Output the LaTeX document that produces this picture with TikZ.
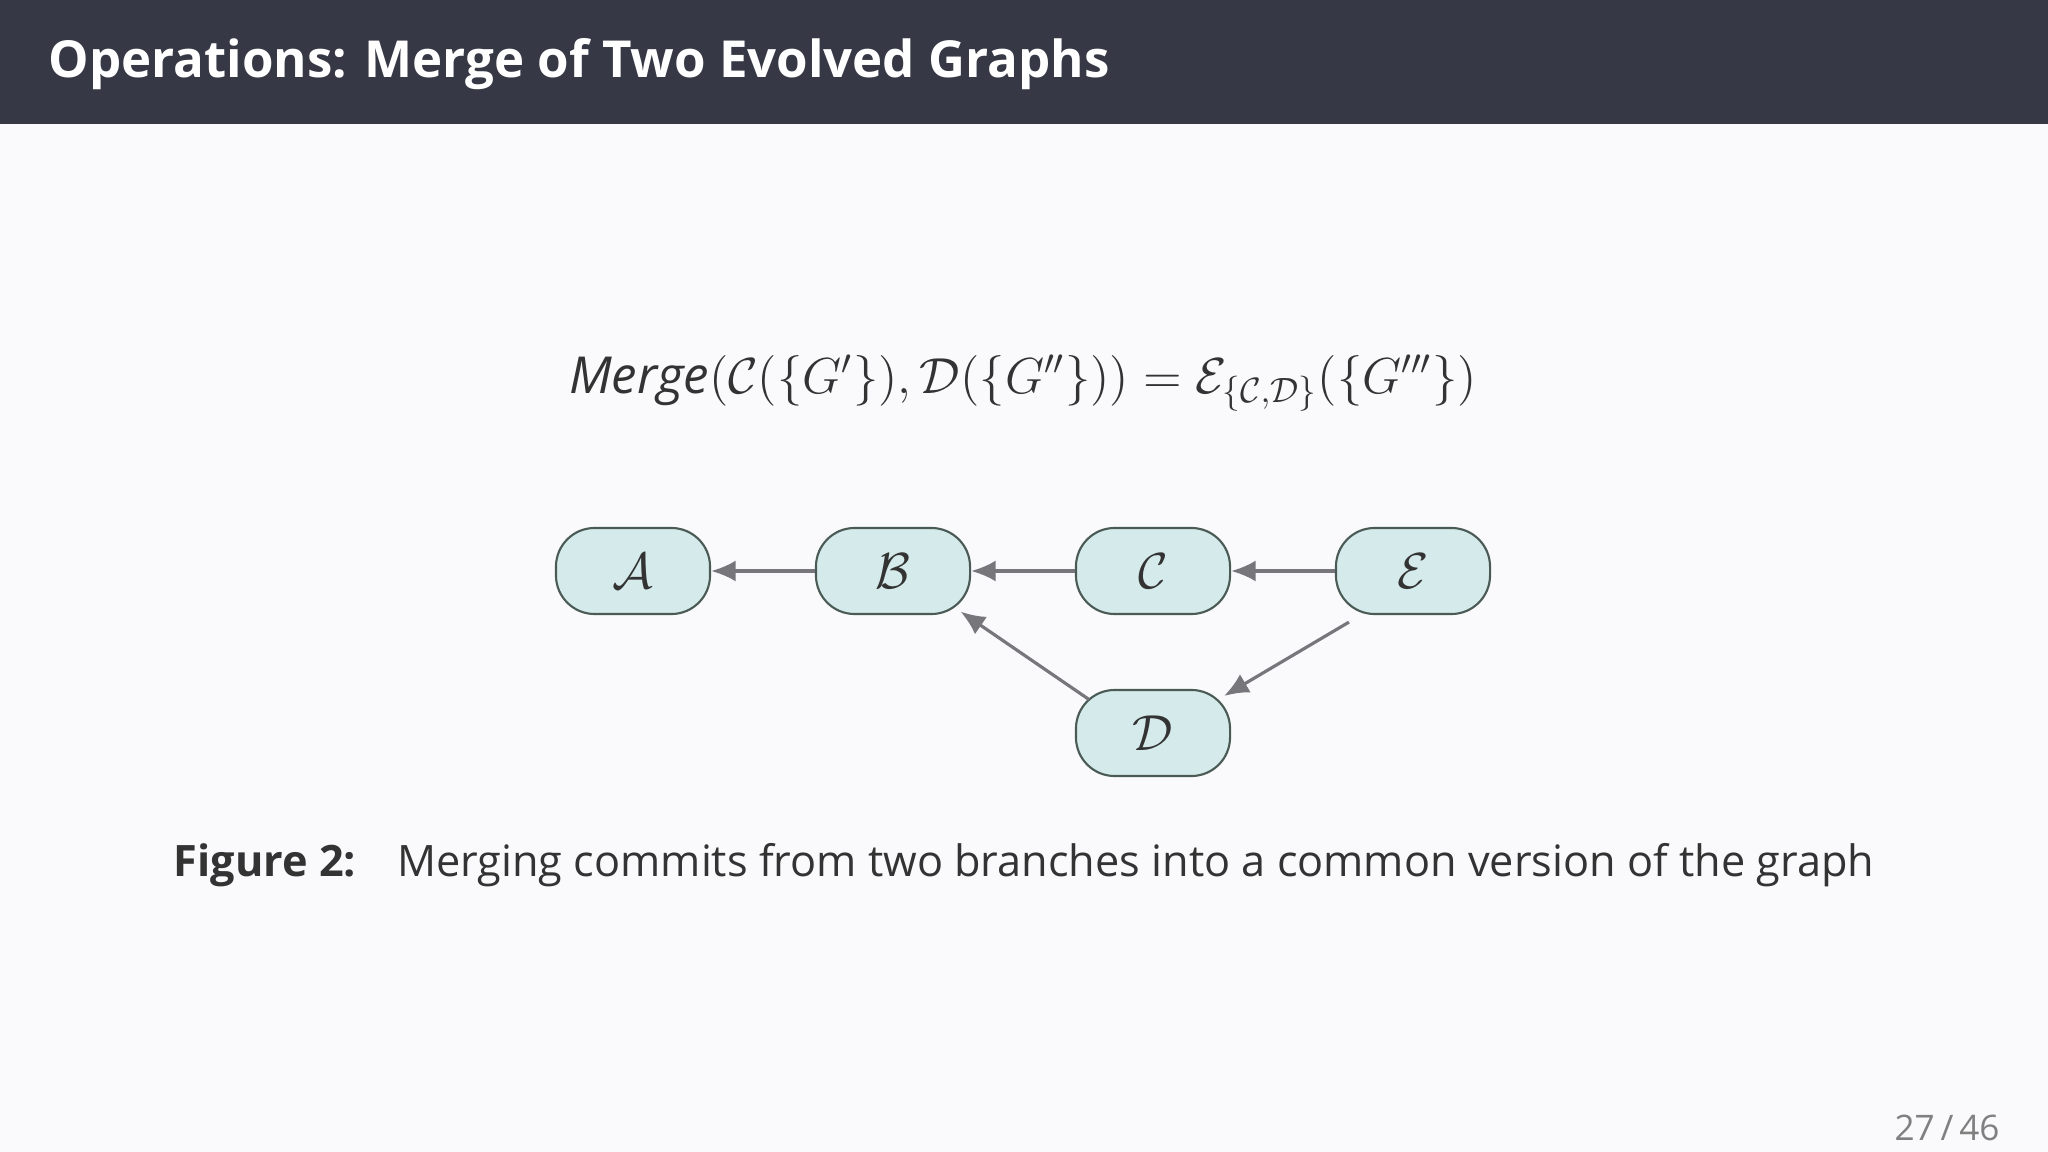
\documentclass[tikz,border=0pt]{standalone}
\usepackage{fontspec}
\setmainfont{Open Sans}
\usetikzlibrary{arrows.meta}
\definecolor{bg}{HTML}{FAF9FB}
\definecolor{hdr}{HTML}{363945}
\definecolor{nfill}{HTML}{D5EAEA}
\definecolor{ndraw}{HTML}{4A5A55}
\definecolor{arr}{HTML}{77777B}
\definecolor{txt}{HTML}{333333}
\tikzset{
  commit/.style={draw=ndraw, fill=nfill, rounded corners=11pt, minimum width=1.54cm, minimum height=0.86cm, font=\fontsize{15}{17}\selectfont, text=txt, line width=0.6pt},
  link/.style={-{Latex[length=7pt,width=6pt]}, draw=arr, line width=0.9pt}
}
\begin{document}
\begin{tikzpicture}[x=0.01cm,y=-0.01cm]
\fill[bg] (0,0) rectangle (2048,1152);
\useasboundingbox (0,0) rectangle (2048,1152);
\fill[hdr] (0,0) rectangle (2048,124);
\node[anchor=west, text=white, font=\fontsize{14.5}{18}\bfseries] (title) at (36,64) {Operations: Merge of Two Evolved Graphs};
\node[text=txt, font=\fontsize{14.5}{17}\selectfont] (formula) at (1023,383)
  {$\textit{Merge}(\mathcal{C}(\{G'\}),\mathcal{D}(\{G''\}))=\mathcal{E}_{\{\mathcal{C},\mathcal{D}\}}(\{G'''\})$};
\node[commit] (A) at (633,571) {$\mathcal{A}$};
\node[commit] (B) at (893,571) {$\mathcal{B}$};
\node[commit] (C) at (1153,571) {$\mathcal{C}$};
\node[commit] (E) at (1413,571) {$\mathcal{E}$};
\node[commit] (D) at (1153,733) {$\mathcal{D}$};
\draw[link] (B) -- (A);
\draw[link] (C) -- (B);
\draw[link] (E) -- (C);
\draw[link] ([xshift=4pt,yshift=-2pt]E.south west) -- ([xshift=-2pt,yshift=-2pt]D.north east);
\draw[link] ([xshift=4pt,yshift=-3pt]D.north west) -- ([xshift=-3pt,yshift=1pt]B.south east);
\node[text=txt, font=\fontsize{12.3}{15}\selectfont] (cap) at (1024,865)
  {\textbf{Figure 2:}\hspace{0.6em} Merging commits from two branches into a common version of the graph};
\node[anchor=east, text=gray, font=\fontsize{10}{12}\selectfont] (page) at (2012,1128) {27\,/\,46};
\end{tikzpicture}
\end{document}
